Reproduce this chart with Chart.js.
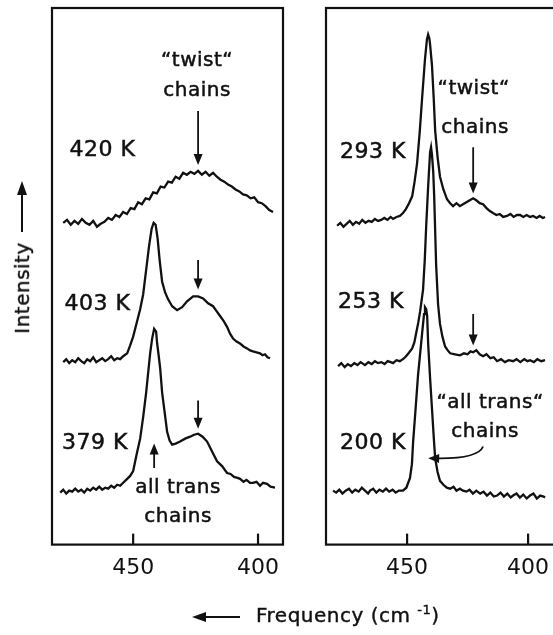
<!DOCTYPE html>
<html>
<head>
<meta charset="utf-8">
<script src="https://cdn.jsdelivr.net/npm/chart.js@4.4.1/dist/chart.umd.min.js"></script>
<style>
  html, body { margin: 0; padding: 0; background: #fff; overflow: hidden; width: 553px; height: 635px; }
  .panel { position: absolute; top: 0; height: 635px; }
  #leftWrap { left: 0; width: 300px; }
  #rightWrap { left: 300px; width: 280px; }
  .title { position: absolute; font-family: 'DejaVu Sans', sans-serif; font-size: 20px; color: #111; white-space: nowrap; letter-spacing: 0.5px; -webkit-text-stroke: 0.4px #111; }
  #yTitle { left: 22px; top: 288px; transform: translate(-50%, -50%) rotate(-90deg); }
  #xTitle { left: 256px; top: 602px; }
  #xTitle sup { font-size: 13px; }
  svg { position: absolute; left: 0; top: 0; pointer-events: none; }
</style>
</head>
<body>
<div class="panel" id="leftWrap"><canvas id="leftChart" width="300" height="635"></canvas></div>
<div class="panel" id="rightWrap"><canvas id="rightChart" width="280" height="635"></canvas></div>
<div class="title" id="yTitle">Intensity</div>
<div class="title" id="xTitle">Frequency (cm <sup>-1</sup>)</div>
<svg width="553" height="635">
  <line x1="22" y1="232" x2="22" y2="192" stroke="#111" stroke-width="2"/>
  <polygon points="22,181 17,195 27,195" fill="#111"/>
  <line x1="240" y1="617" x2="203" y2="617" stroke="#111" stroke-width="2"/>
  <polygon points="192,617 206,612 206,622" fill="#111"/>
</svg>
<script>
// frequency (cm-1) vs intensity (arb. units)
const tickValues = [450, 400];

const s420 = [[478,328],[476.5,331],[475,326],[473.5,330],[472,327],[470.5,332],[469,328],[467.5,326],[466,330],[464.5,324],[463,327],[461.5,329],[460,333],[458.5,331],[457,336],[455.5,334],[454,339],[452.5,337],[451,343],[449.5,342],[448,349],[446.5,347],[445,353],[443.5,352],[442,359],[440.5,358],[439,365],[437.5,364],[436,370],[434.5,369],[433,375],[431.5,373],[430,379],[428.5,377],[427,380],[425.5,378],[424,381],[422.5,377],[421,380],[419.5,376],[418,379],[416.5,375],[415,372],[413.5,370],[412,367],[410.5,365],[409,362],[407.5,360],[406,357],[404.5,356],[403,353],[401.5,354],[400,349],[398.5,348],[397,345],[395.5,341],[394,339]];

const s403 = [[478,186],[476.8,189],[475.6,185],[474.4,188],[473.2,186],[472,190],[470.8,187],[469.6,185],[468.4,189],[467.2,187],[466,191],[464.8,186],[463.6,188],[462.4,190],[461.2,187],[460,189],[458.8,192],[457.6,188],[456.4,190],[455.2,189],[454,192],[452.4,195],[451.2,203],[450,212],[448.4,228],[447.2,240],[446,255],[444.8,280],[443.6,305],[442.6,322],[441.8,328],[441,326],[440.2,312],[439.4,290],[438.4,268],[437.2,257],[436,250],[434.4,243],[432.4,239],[430.4,242],[428.4,248],[426,253],[424,253],[422,251],[420,246],[418,243],[416.6,238],[415.2,233],[413.8,228],[412.4,222],[411.2,215],[410,210],[408.6,207],[407.2,205],[405.8,202],[404.4,200],[403.2,198],[402,197],[400.6,196],[399.2,195],[398.2,193],[397.2,194],[396.2,191],[395.2,190]];

const s379 = [[479.2,53],[478,56],[476.8,52],[475.6,55],[474.4,54],[473.2,57],[472,54],[470.8,56],[469.6,53],[468.4,57],[467.2,55],[466,58],[464.8,56],[463.6,59],[462.4,56],[461.2,58],[460,57],[458.8,60],[457.6,58],[456.4,61],[455.2,60],[454,63],[452.4,67],[451.2,70],[450,75],[448.6,92],[447.2,108],[446,130],[444.8,155],[444,175],[443.2,195],[442.4,210],[441.6,220],[440.8,217],[440.4,205],[439.8,193],[439.2,180],[438.4,155],[437.4,135],[436.4,115],[435.4,106],[434.4,102],[433,103],[431.2,105],[429.2,108],[427.2,110],[425.6,112],[424,113],[422.2,110],[420.4,105],[418.4,95],[416.4,85],[414.4,80],[412.4,73],[411,72],[409.6,69],[408.2,68],[407.2,67],[405.8,64],[404.6,66],[403.2,63],[402,63],[400.6,64],[399.2,60],[398,63],[396.4,62],[395,59],[393.2,58]];

const s293 = [[478.9,325],[477.6,328],[476.3,324],[475,327],[473.7,330],[472.4,326],[471.1,329],[469.8,327],[468.5,331],[467.2,328],[465.9,330],[464.6,329],[463.3,332],[462,330],[460.7,331],[459.4,333],[458.1,331],[456.8,334],[455.8,332],[454.4,334],[453,335],[451.7,338],[450.5,342],[449.2,348],[447.9,355],[446.9,370],[445.9,388],[444.8,420],[443.8,455],[442.6,495],[441.8,515],[441.3,520],[440.8,516],[440.5,510],[439.7,488],[439,455],[438.4,422],[437.4,395],[436.4,375],[435,362],[433.5,352],[432.2,348],[431,345],[429.6,348],[428.2,345],[426.9,347],[425.5,349],[424.1,351],[422.7,353],[421.4,351],[420,348],[418.6,347],[417.2,343],[415.8,340],[414.5,338],[413.1,336],[411.7,337],[410.3,334],[408.7,335],[407.3,337],[406,334],[404.6,336],[403.3,336],[402,334],[400.6,336],[399.2,334],[397.9,335],[396.5,333],[395.2,335],[393.9,333],[393,334]];

const s253 = [[478.5,182],[477.2,185],[475.8,181],[474.5,184],[473.2,182],[471.8,185],[470.5,183],[469.2,186],[467.4,183],[466,186],[464.6,184],[463.3,187],[462,185],[460.6,186],[459.3,184],[458,187],[456.8,186],[455.8,185],[454.4,188],[453,187],[451.7,189],[450.8,191],[449.4,195],[447.9,200],[447,206],[446.3,215],[445.4,226],[444.6,238],[443.4,260],[442.7,290],[442.1,325],[441.3,365],[440.5,400],[440.1,405],[439.7,397],[439.2,380],[438.8,355],[438.4,320],[438,285],[437.2,245],[436.4,225],[435.4,212],[434.3,202],[433.2,198],[432.2,195],[430.2,194],[428.1,193],[426.5,195],[425,194],[423.8,197],[422.7,196],[421.4,198],[420,194],[418.6,192],[417.2,194],[415.6,190],[414.2,191],[412.8,187],[411.2,189],[409.6,186],[408,188],[406.2,187],[404.8,189],[403.2,186],[401.6,189],[400.2,187],[399.2,188],[397.6,186],[396.2,189],[394.6,187],[393,188]];

const s200 = [[480.6,55],[479.3,53],[478,56],[476.7,52],[475.4,55],[474,57],[472.7,53],[471.4,56],[470,54],[468.7,58],[467.4,55],[466.1,52],[465.3,55],[464,57],[462.7,53],[461.4,56],[460,54],[458.7,57],[457.4,54],[456,56],[454.7,53],[453.4,55],[451.7,55],[450.3,58],[448.8,68],[448,82],[447.5,105],[446.5,138],[445.5,172],[444.6,195],[443.8,215],[443,235],[442.6,242],[442.1,240],[441.7,233],[441.3,205],[440.5,170],[439.7,138],[439,110],[438.4,88],[437.4,74],[436.4,65],[435,61],[433.6,58],[432.2,57],[430.8,59],[429.6,55],[428.2,57],[426.9,55],[425.5,54],[424.2,56],[422.8,52],[421.4,55],[419.8,52],[418.4,54],[417,50],[415.6,53],[414.2,49],[412.8,50],[411.4,53],[410,49],[408.6,52],[407.2,48],[406.2,50],[404.8,52],[403.4,48],[402,51],[400.6,47],[399.2,50],[397.8,52],[396.4,47],[395,50],[393.6,49],[393,48]];

// annotations, placed in data coordinates (freq, intensity)
const leftNotes = [
  { text: '420 K', f: 475.5, v: 402, align: 'left', size: 22 },
  { text: '403 K', f: 477.5, v: 245, align: 'left', size: 22 },
  { text: '379 K', f: 478.5, v: 103, align: 'left', size: 22 },
  { text: '\u201ctwist\u201c', f: 424.4, v: 493, align: 'center', size: 20 },
  { text: 'chains', f: 424.4, v: 463, align: 'center', size: 20 },
  { text: 'all trans', f: 432, v: 58, align: 'center', size: 20 },
  { text: 'chains', f: 432, v: 28, align: 'center', size: 20 }
];
const leftArrows = [
  { f: 424, from: 442, to: 387 },
  { f: 424, from: 290, to: 260 },
  { f: 424, from: 147, to: 118 },
  { f: 441.6, from: 78, to: 103 }
];
const rightNotes = [
  { text: '293 K', f: 477.7, v: 400, align: 'left', size: 22 },
  { text: '253 K', f: 478.5, v: 247, align: 'left', size: 22 },
  { text: '200 K', f: 477.7, v: 103, align: 'left', size: 22 },
  { text: '\u201ctwist\u201c', f: 422.5, v: 465, align: 'center', size: 20 },
  { text: 'chains', f: 421.9, v: 425, align: 'center', size: 20 },
  { text: '\u201call trans\u201c', f: 415.7, v: 145, align: 'center', size: 20 },
  { text: 'chains', f: 417.8, v: 115, align: 'center', size: 20 }
];
const rightArrows = [
  { f: 422.7, from: 405, to: 358 },
  { f: 422.7, from: 235, to: 203 }
];
const rightCurve = { start: [418.6, 100], ctrl: [420.7, 87], end: [441.3, 88] };

function head(ctx, x, y, dx, dy) {
  const len = 11, w = 4.5;
  const n = Math.hypot(dx, dy); dx /= n; dy /= n;
  ctx.beginPath();
  ctx.moveTo(x, y);
  ctx.lineTo(x - dx * len - dy * w, y - dy * len + dx * w);
  ctx.lineTo(x - dx * len + dy * w, y - dy * len - dx * w);
  ctx.closePath();
  ctx.fill();
}

const framePlugin = {
  id: 'framePlugin',
  afterDraw(chart, args, opts) {
    const { ctx, chartArea: a, scales: { x, y } } = chart;
    ctx.save();
    ctx.strokeStyle = '#111';
    ctx.fillStyle = '#111';
    ctx.lineWidth = 2.2;
    ctx.strokeRect(a.left, a.top, a.right - a.left, a.bottom - a.top);
    tickValues.forEach(v => {
      const px = x.getPixelForValue(v);
      ctx.beginPath();
      ctx.moveTo(px, a.bottom);
      ctx.lineTo(px, a.bottom - 11);
      ctx.stroke();
    });
    ctx.lineWidth = 0.5;
    ctx.letterSpacing = '0.5px';
    (opts.notes || []).forEach(n => {
      ctx.font = n.size + 'px "DejaVu Sans", sans-serif';
      ctx.textAlign = n.align;
      ctx.textBaseline = 'middle';
      const px = x.getPixelForValue(n.f), py = y.getPixelForValue(n.v);
      ctx.fillText(n.text, px, py);
      ctx.strokeText(n.text, px, py);
    });
    ctx.lineWidth = 1.8;
    (opts.arrows || []).forEach(ar => {
      const px = x.getPixelForValue(ar.f);
      const y1 = y.getPixelForValue(ar.from), y2 = y.getPixelForValue(ar.to);
      ctx.beginPath();
      ctx.moveTo(px, y1);
      ctx.lineTo(px, y2 - Math.sign(y2 - y1) * 6);
      ctx.stroke();
      head(ctx, px, y2, 0, y2 - y1);
    });
    if (opts.curve) {
      const c = opts.curve;
      const p0 = [x.getPixelForValue(c.start[0]), y.getPixelForValue(c.start[1])];
      const p1 = [x.getPixelForValue(c.ctrl[0]), y.getPixelForValue(c.ctrl[1])];
      const p2 = [x.getPixelForValue(c.end[0]), y.getPixelForValue(c.end[1])];
      ctx.beginPath();
      ctx.moveTo(p0[0], p0[1]);
      ctx.quadraticCurveTo(p1[0], p1[1], p2[0] + 6, p2[1]);
      ctx.stroke();
      head(ctx, p2[0], p2[1], p2[0] - p1[0], p2[1] - p1[1]);
    }
    ctx.restore();
  }
};

function makeChart(id, series, xMin, xMax, pad, notes, arrows, curve) {
  return new Chart(document.getElementById(id), {
    type: 'line',
    data: {
      datasets: series.map(s => ({
        data: s.map(p => ({ x: p[0], y: p[1] })),
        borderColor: '#111',
        borderWidth: 2.3,
        pointRadius: 0,
        tension: 0,
        fill: false
      }))
    },
    options: {
      responsive: false,
      animation: false,
      events: [],
      layout: { padding: pad },
      plugins: {
        legend: { display: false },
        tooltip: { enabled: false },
        framePlugin: { notes: notes, arrows: arrows, curve: curve }
      },
      scales: {
        x: {
          type: 'linear',
          reverse: true,
          min: xMin,
          max: xMax,
          afterBuildTicks: scale => { scale.ticks = tickValues.map(v => ({ value: v })); },
          grid: { display: false, drawTicks: false },
          border: { display: false },
          ticks: {
            padding: 10,
            color: '#111',
            maxRotation: 0,
            font: { family: 'DejaVu Sans', size: 22 }
          }
        },
        y: {
          display: false,
          min: 0,
          max: 547
        }
      }
    },
    plugins: [framePlugin]
  });
}

makeChart('leftChart', [s420, s403, s379], 390, 482.5,
  { left: 52, right: 17, top: 8, bottom: 44 }, leftNotes, leftArrows, null);
makeChart('rightChart', [s293, s253, s200], 379.8, 483.5,
  { left: 26, right: 3, top: 8, bottom: 44 }, rightNotes, rightArrows, rightCurve);
</script>
</body>
</html>
